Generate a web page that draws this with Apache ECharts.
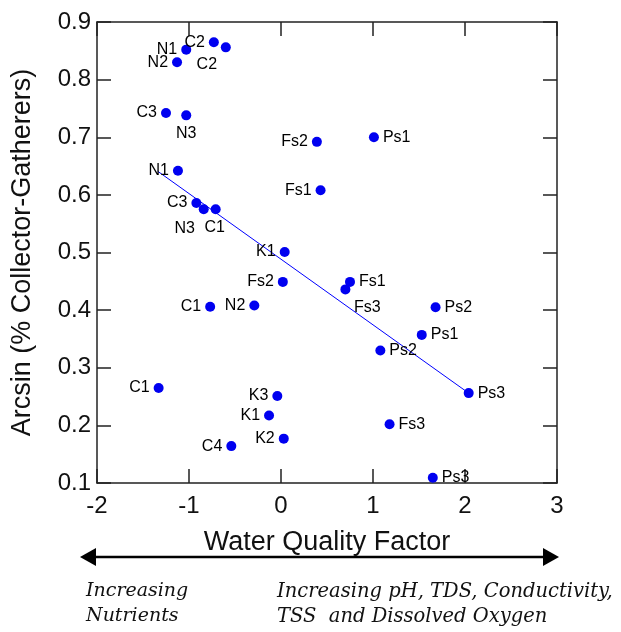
<!DOCTYPE html>
<html>
<head>
<meta charset="utf-8">
<script src="https://cdn.jsdelivr.net/npm/echarts@6/dist/echarts.min.js"></script>
<style>
  html, body { margin: 0; padding: 0; background: #fff; }
  #chart { width: 621px; height: 632px; }
</style>
</head>
<body>
<div id="chart"></div>
<script>
// site names, water quality factor (x) and arcsin (% collector-gatherers) (y)
var sites = ['N1','C2','C2','N2','C3','N3','Fs2','N1','Fs1','C3','N3','C1','K1','Ps1','Fs2',
             'Fs1','Fs3','Ps2','N2','C1','C1','K3','K1','K2','C4','Ps1','Ps2','Ps3','Fs3','Ps3'];
var waterFactor = [-1.03,-0.73,-0.60,-1.13,-1.25,-1.03,0.39,-1.12,0.43,-0.92,-0.84,-0.71,0.04,1.01,0.02,
                   0.75,0.70,1.68,-0.29,-0.77,-1.33,-0.04,-0.13,0.03,-0.54,1.53,1.08,2.04,1.18,1.65];
var arcsinCG = [0.852,0.865,0.856,0.830,0.742,0.738,0.692,0.642,0.608,0.586,0.575,0.575,0.501,0.700,0.449,
                0.449,0.436,0.405,0.408,0.406,0.265,0.251,0.217,0.177,0.164,0.357,0.330,0.256,0.202,0.109];
// regression line end points
var trendX = [-1.34, 2.04];
var trendY = [0.641, 0.256];
var xTicks = [-2, -1, 0, 1, 2, 3];
var yTicks = [0.1, 0.2, 0.3, 0.4, 0.5, 0.6, 0.7, 0.8, 0.9];

// where each point's label sits (style only)
var labelPlace = {
  2: [-19, 17], 5: [0, 18], 10: [-19, 19], 11: [-1, 18], 16: [22, 18],
  13: 'right', 15: 'right', 17: 'right', 25: 'right', 26: 'right', 27: 'right', 28: 'right', 29: 'right'
};

var pts = sites.map(function (s, i) {
  var p = labelPlace[i] || 'left';
  var lab;
  if (Array.isArray(p)) {
    lab = { position: 'inside', offset: p, align: 'center', verticalAlign: 'middle' };
  } else {
    lab = { position: p, distance: 4 };
  }
  return { value: [waterFactor[i], arcsinCG[i]], name: s, label: lab };
});

var axisCol = '#222';
var chart = echarts.init(document.getElementById('chart'));
chart.setOption({
  backgroundColor: '#fff',
  animation: false,
  grid: { left: 97, right: 64, top: 22, bottom: 149, outerBoundsMode: 'none', containLabel: false },
  xAxis: [{
    type: 'value', min: -2, max: 3, interval: 1,
    axisLine: { show: true, onZero: false, lineStyle: { color: axisCol, width: 1.5 } },
    axisTick: { show: true, inside: true, length: 14, lineStyle: { color: axisCol, width: 1.5 } },
    axisLabel: { fontSize: 24, color: '#111', margin: 11, fontFamily: 'Liberation Sans',
      formatter: function (v) { return xTicks.indexOf(v) >= 0 ? String(v) : ''; } },
    splitLine: { show: false },
    name: 'Water Quality Factor', nameLocation: 'middle', nameGap: 46,
    nameTextStyle: { fontSize: 27, color: '#111', fontFamily: 'Liberation Sans' }
  }, {
    type: 'value', position: 'top', min: -2, max: 3, interval: 1,
    axisLine: { show: true, onZero: false, lineStyle: { color: axisCol, width: 1.5 } },
    axisTick: { show: true, inside: true, length: 14, lineStyle: { color: axisCol, width: 1.5 } },
    axisLabel: { show: false }, splitLine: { show: false }
  }],
  yAxis: [{
    type: 'value', min: 0.1, max: 0.9, interval: 0.1,
    axisLine: { show: true, onZero: false, lineStyle: { color: axisCol, width: 1.5 } },
    axisTick: { show: true, inside: true, length: 14, lineStyle: { color: axisCol, width: 1.5 } },
    axisLabel: { fontSize: 24, color: '#111', margin: 6, fontFamily: 'Liberation Sans',
      formatter: function (v) { return v.toFixed(1); } },
    splitLine: { show: false },
    name: 'Arcsin (% Collector-Gatherers)', nameLocation: 'middle', nameGap: 61, nameRotate: 90,
    nameTextStyle: { fontSize: 27, color: '#111', fontFamily: 'Liberation Sans' }
  }, {
    type: 'value', position: 'right', min: 0.1, max: 0.9, interval: 0.1,
    axisLine: { show: true, onZero: false, lineStyle: { color: axisCol, width: 1.5 } },
    axisTick: { show: true, inside: true, length: 14, lineStyle: { color: axisCol, width: 1.5 } },
    axisLabel: { show: false }, splitLine: { show: false }
  }],
  series: [{
    type: 'line',
    data: trendX.map(function (x, i) { return [x, trendY[i]]; }),
    symbol: 'none',
    lineStyle: { color: '#0000ff', width: 1 },
    z: 2
  }, {
    type: 'scatter',
    data: pts,
    symbolSize: 10,
    itemStyle: { color: '#0000f0', opacity: 1 },
    label: {
      show: true, formatter: '{b}', fontSize: 16, color: '#000', fontFamily: 'Liberation Sans'
    },
    z: 3
  }],
  graphic: [
    { type: 'line', shape: { x1: 92, y1: 557, x2: 546, y2: 557 }, style: { stroke: '#000', lineWidth: 2.5 } },
    { type: 'polygon', shape: { points: [[80, 557], [96, 548], [96, 566]] }, style: { fill: '#000' } },
    { type: 'polygon', shape: { points: [[559, 557], [543, 548], [543, 566]] }, style: { fill: '#000' } },
    { type: 'text', left: 86, top: 579, style: { text: 'Increasing\nNutrients', font: 'italic 19px "DejaVu Serif"', lineHeight: 25, fill: '#111' } },
    { type: 'text', left: 277, top: 579, style: { text: 'Increasing pH, TDS, Conductivity,\nTSS  and Dissolved Oxygen', font: 'italic 19.5px "DejaVu Serif"', lineHeight: 25, fill: '#111' } }
  ]
});
</script>
</body>
</html>
